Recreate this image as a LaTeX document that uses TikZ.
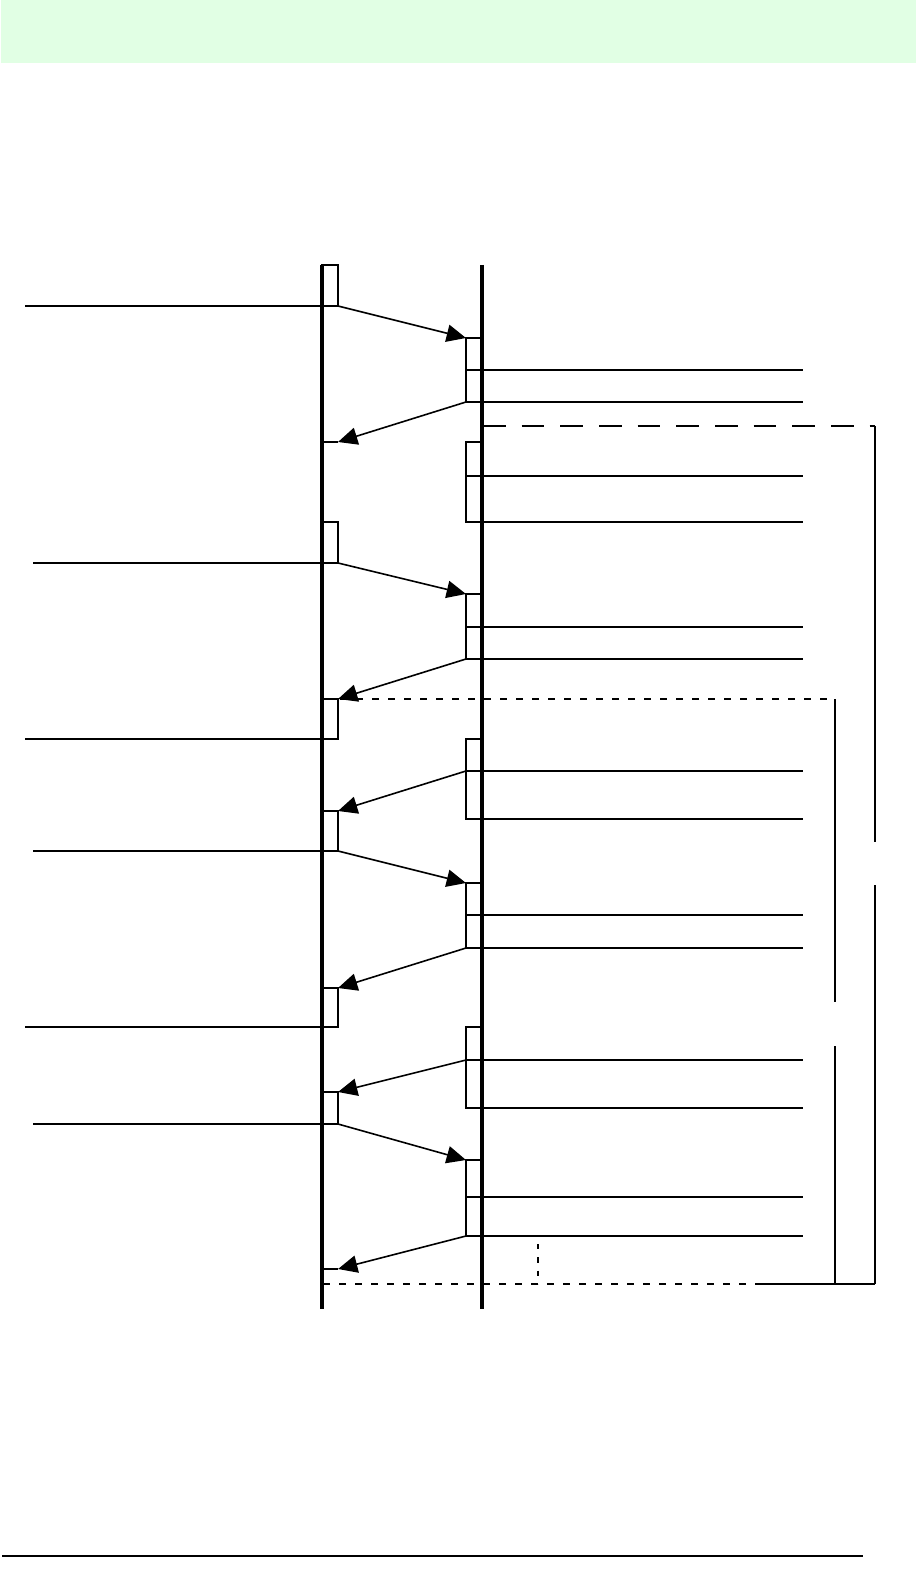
\documentclass[tikz,border=0pt]{standalone}
\usetikzlibrary{arrows.meta}
\definecolor{bandgreen}{RGB}{225,255,228}
\begin{document}
\begin{tikzpicture}[x=0.75pt,y=-0.75pt,
  lifeline/.style={line width=3pt},
  fine/.style={line width=1pt},
  msg/.style={line width=1.2pt,-{Triangle[length=14.5pt,width=13pt]}},
  bar/.style={line width=1.8pt},
  longdash/.style={line width=1pt,dash pattern=on 17pt off 12pt},
  shortdash/.style={line width=1pt,dash pattern=on 5pt off 7pt},
  vdash/.style={line width=1pt,dash pattern=on 4pt off 6pt},
]
\useasboundingbox (0,0) rectangle (916,1583);
\fill[bandgreen] (1,0) rectangle (916,63);
\draw[line width=1.2pt] (2,1556) -- (863,1556);

% named coordinates of lifelines
\coordinate (Ltop) at (321.5,265);
\coordinate (Lbot) at (321.5,1309);
\coordinate (Rtop) at (482,265);
\coordinate (Rbot) at (482,1309);

% left activation boxes with their incoming lines
\foreach \t/\b/\s in {265/306/25, 522/563/33, 699/739/25, 811/851/33, 988/1027/25, 1092/1124/33}{
  \draw[fine] (322,\t) rectangle (338,\b);
  \draw[fine] (\s,\b) -- (338,\b);
}
% short bars at the two other return points
\draw[bar] (322,442) -- (338,442);
\draw[bar] (322,1269) -- (338,1269);

% right activation boxes
\foreach \t/\m/\b in {338/370/402, 442/476/522, 594/627/659, 739/771/819, 883/915/948, 1027/1060/1108, 1160/1197/1236}{
  \draw[fine] (466,\t) rectangle (482,\b);
  \draw[fine] (466,\m) -- (482,\m);
  \draw[fine] (482,\m) -- (803,\m);
  \draw[fine] (482,\b) -- (803,\b);
}

% message end points
\coordinate (a1) at (338,306);  \coordinate (b1) at (466,338);
\coordinate (a2) at (466,402);  \coordinate (b2) at (338,442);
\coordinate (a3) at (338,563);  \coordinate (b3) at (466,594);
\coordinate (a4) at (466,659);  \coordinate (b4) at (338,699);
\coordinate (a5) at (466,771);  \coordinate (b5) at (338,811);
\coordinate (a6) at (338,851);  \coordinate (b6) at (466,883);
\coordinate (a7) at (466,948);  \coordinate (b7) at (338,988);
\coordinate (a8) at (466,1060); \coordinate (b8) at (338,1092);
\coordinate (a9) at (338,1124); \coordinate (b9) at (466,1160);
\coordinate (a10) at (466,1236); \coordinate (b10) at (338,1269);
\foreach \i in {1,...,10}{ \draw[msg] (a\i) -- (b\i); }

% brackets
\coordinate (d1s) at (483,426);  \coordinate (d1e) at (875,426);
\draw[longdash] (d1s) -- (d1e);
\draw[fine] (875,426) -- (875,842);
\draw[fine] (875,885) -- (875,1284);

\coordinate (d2s) at (340,699);  \coordinate (d2e) at (835,699);
\draw[shortdash] (d2s) -- (d2e);
\draw[fine] (835,699) -- (835,1002);
\draw[fine] (835,1046) -- (835,1284);

\draw[shortdash] (323,1284) -- (762,1284);
\draw[fine] (762,1284) -- (875,1284);
\draw[vdash] (538,1244) -- (538,1284);

% lifelines on top
\draw[lifeline] (Ltop) -- (Lbot);
\draw[lifeline] (Rtop) -- (Rbot);
\end{tikzpicture}
\end{document}
